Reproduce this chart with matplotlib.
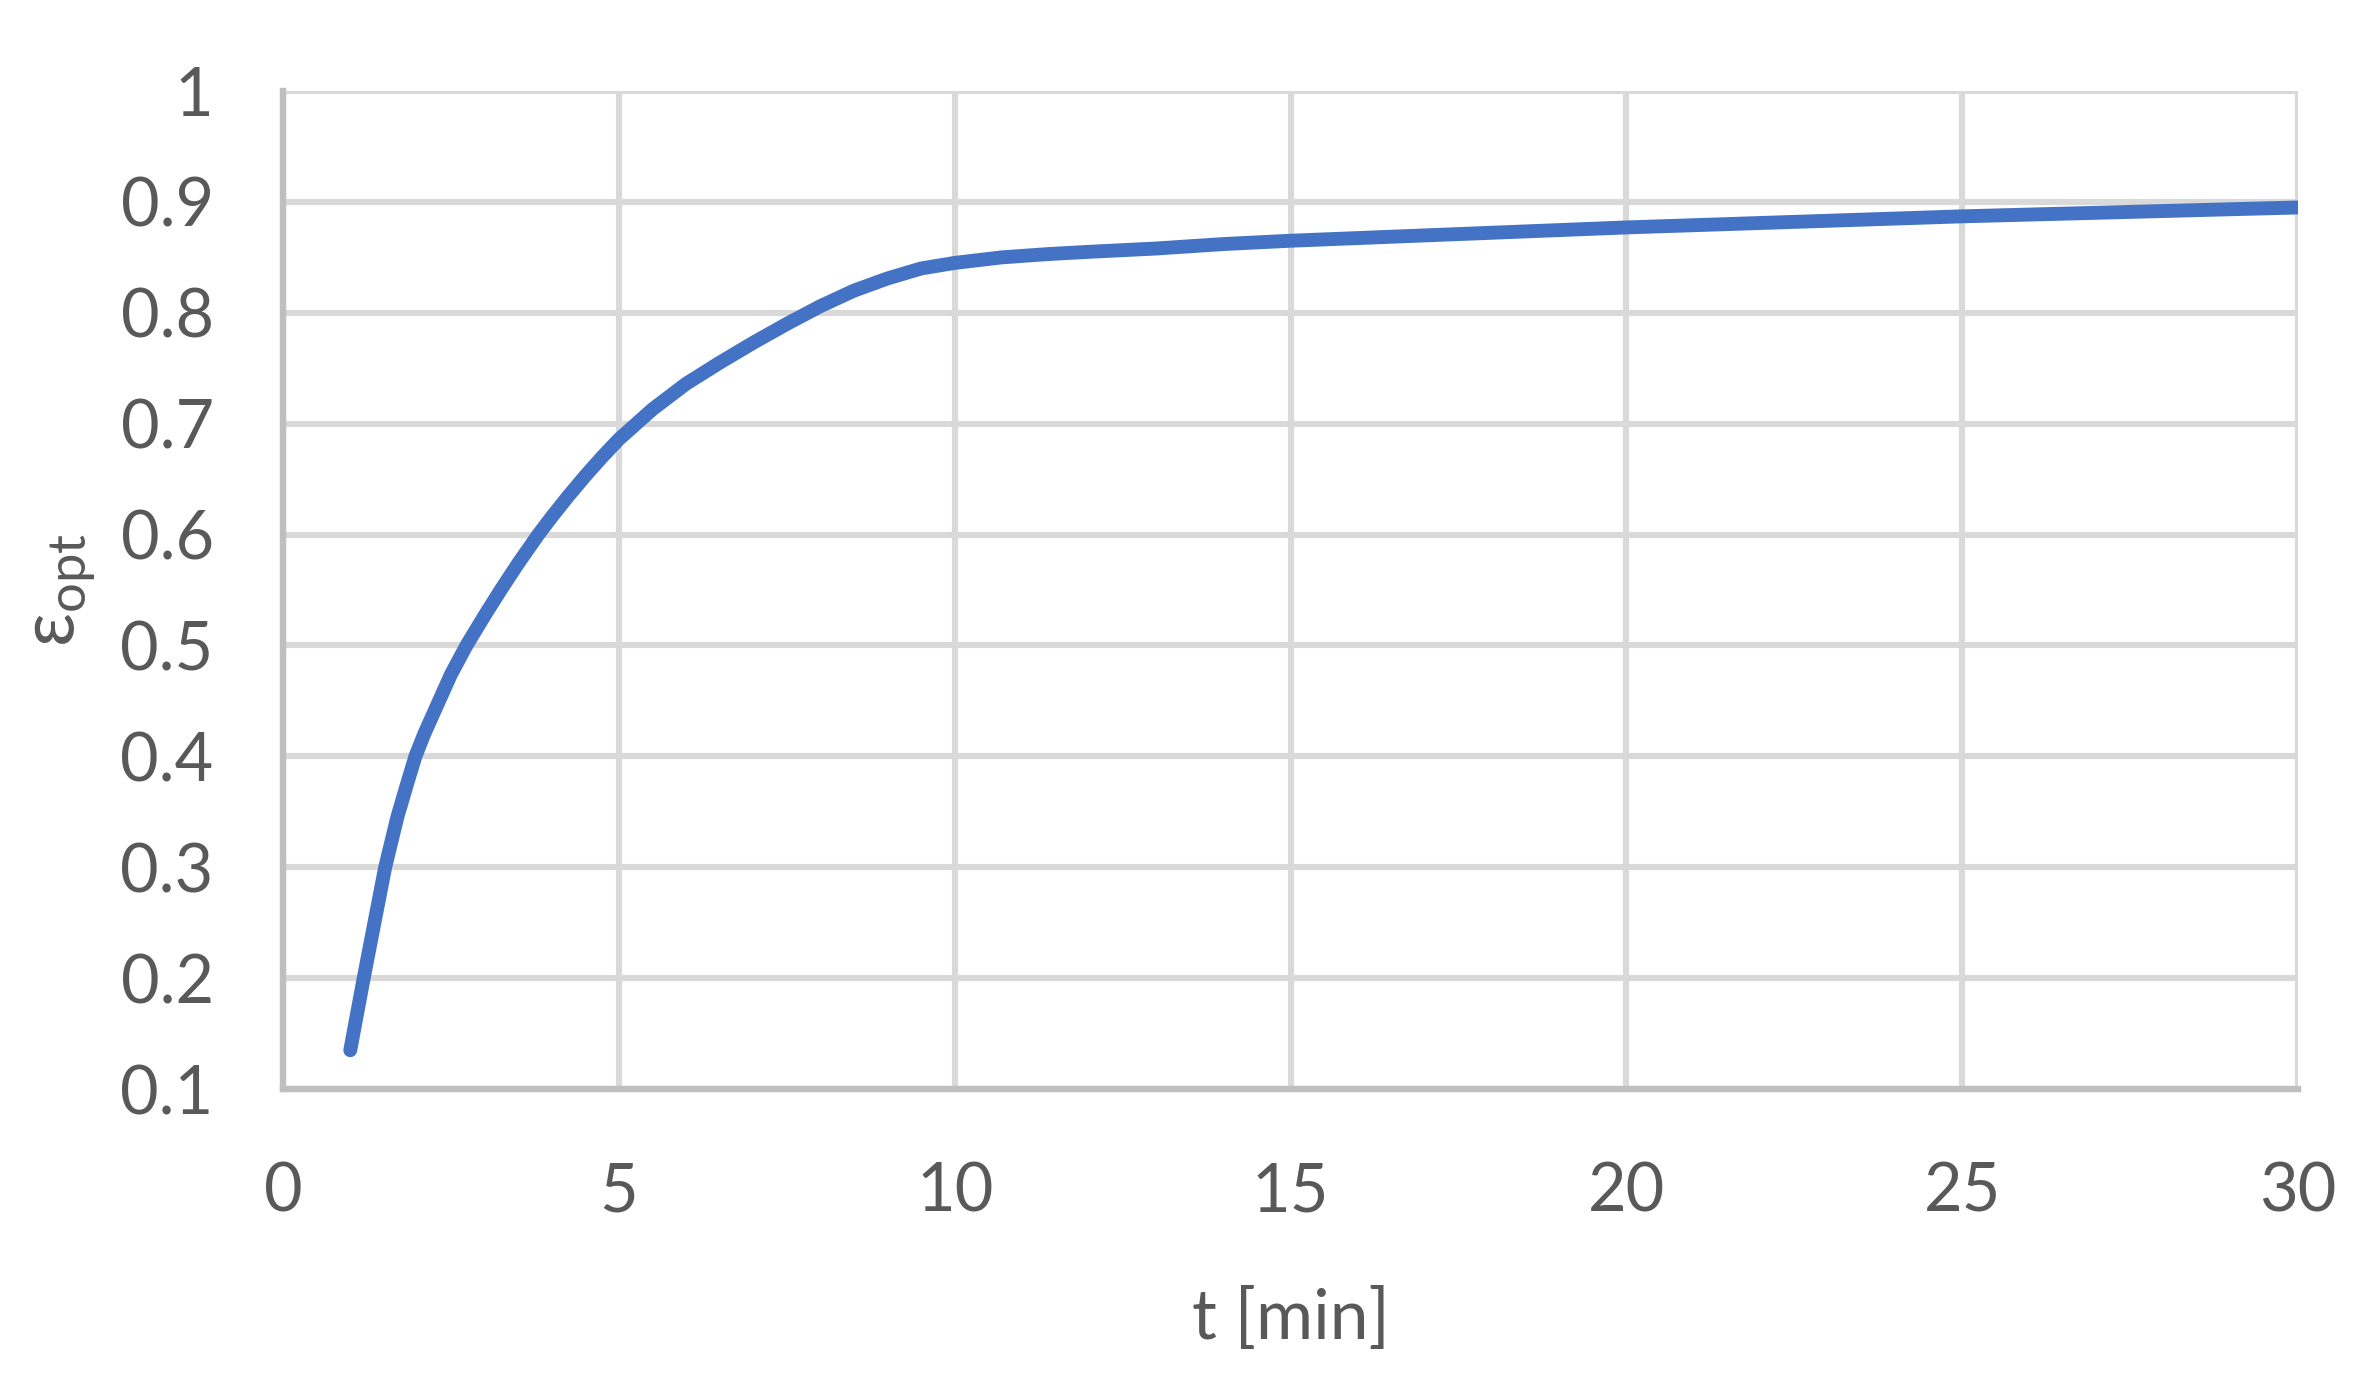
import matplotlib
matplotlib.use('Agg')
import matplotlib.pyplot as plt

# values
t_min = [1.0, 1.2, 1.35, 1.52, 1.7, 1.85, 1.97, 2.1, 2.3, 2.5, 2.73, 3.0, 3.25,
         3.5, 3.8, 4.0, 4.25, 4.5, 4.75, 5.0, 5.5, 6.0, 6.5, 7.0, 7.5, 8.0, 8.5,
         9.0, 9.5, 10.0, 10.7, 11.4, 12.0, 13.0, 14.0, 15.0, 17.5, 20.0, 22.5,
         25.0, 27.5, 30.0]
eps_opt = [0.135, 0.200, 0.247, 0.300, 0.345, 0.376, 0.400, 0.420, 0.447, 0.474,
           0.500, 0.527, 0.551, 0.574, 0.600, 0.616, 0.635, 0.653, 0.670, 0.686,
           0.713, 0.736, 0.755, 0.773, 0.790, 0.806, 0.820, 0.831, 0.840, 0.845,
           0.850, 0.853, 0.855, 0.858, 0.862, 0.865, 0.871, 0.877, 0.882, 0.887,
           0.891, 0.895]

x_ticks = [0, 5, 10, 15, 20, 25, 30]
y_ticks = [0.1, 0.2, 0.3, 0.4, 0.5, 0.6, 0.7, 0.8, 0.9, 1.0]
y_labels = ['0.1', '0.2', '0.3', '0.4', '0.5', '0.6', '0.7', '0.8', '0.9', '1']

plt.rcParams['font.family'] = ['Lato', 'DejaVu Sans']
plt.rcParams['mathtext.fontset'] = 'custom'
plt.rcParams['mathtext.rm'] = 'Lato'
plt.rcParams['mathtext.it'] = 'Lato:italic'

txt_color = '#595959'
grid_color = '#d9d9d9'

fig = plt.figure(figsize=(11.855, 6.865), dpi=200)
ax = fig.add_axes([0.1194, 0.2068, 0.9692 - 0.1194, 0.9337 - 0.2068])

ax.plot(t_min, eps_opt, color='#4472C4', lw=5.0, solid_capstyle='round',
        solid_joinstyle='round', zorder=3)

ax.set_xlim(0, 30)
ax.set_ylim(0.1, 1.0)
ax.set_xticks(x_ticks)
ax.set_xticklabels([str(v) for v in x_ticks])
ax.set_yticks(y_ticks)
ax.set_yticklabels(y_labels)

ax.grid(True, color=grid_color, lw=2.2, zorder=0)
ax.set_axisbelow(True)
for s in ['top', 'right']:
    ax.spines[s].set_visible(False)
for s in ['left', 'bottom']:
    ax.spines[s].set_color('#bfbfbf')
    ax.spines[s].set_linewidth(2.3)
    ax.spines[s].set_zorder(2.5)

ax.tick_params(axis='both', length=0, labelsize=24, labelcolor=txt_color)
ax.tick_params(axis='y', pad=25)
ax.tick_params(axis='x', pad=26)

ax.set_xlabel('t [min]', fontsize=25, color=txt_color, labelpad=23)
ax.set_ylabel(r'$\mathrm{\varepsilon_{opt}}$', fontsize=27, color=txt_color, labelpad=8)

fig.savefig('out.png', dpi=200, facecolor='white')
